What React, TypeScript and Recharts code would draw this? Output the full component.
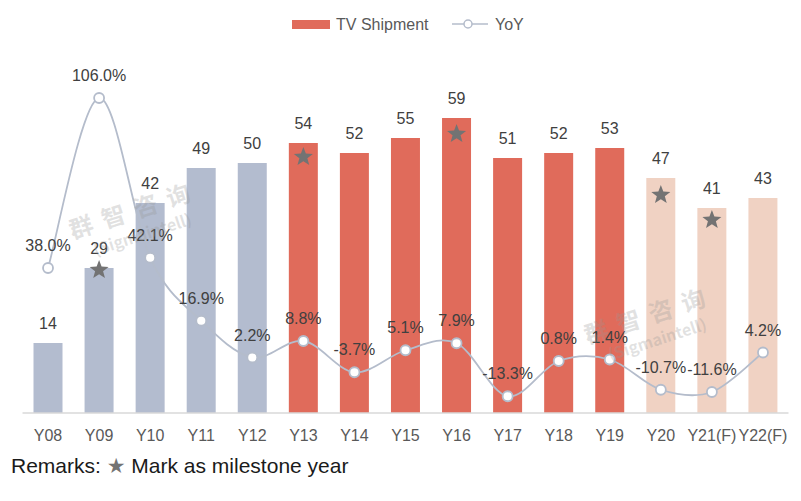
import { ComposedChart, Bar, Line, Scatter, XAxis, YAxis, Cell, LabelList } from 'recharts'

const years = ['Y08', 'Y09', 'Y10', 'Y11', 'Y12', 'Y13', 'Y14', 'Y15', 'Y16', 'Y17', 'Y18', 'Y19', 'Y20', 'Y21(F)', 'Y22(F)']
const shipments = [14, 29, 42, 49, 50, 54, 52, 55, 59, 51, 52, 53, 47, 41, 43]
const yoy = [38.0, 106.0, 42.1, 16.9, 2.2, 8.8, -3.7, 5.1, 7.9, -13.3, 0.8, 1.4, -10.7, -11.6, 4.2]
// star marks sit on the bars of milestone years (value on the shipment axis)
const milestones: (number | null)[] = [null, 28.6, null, null, null, 51.2, null, null, 55.8, null, null, null, 43.6, 38.6, null]

const COLORS = {
  early: '#b3bccf',
  main: '#e06b5b',
  late: '#f0d2c3',
  line: '#b4bccb',
  star: '#737373',
  text: '#404040',
  axis: '#595959',
}

const FONT = '"Liberation Sans", Arial, sans-serif'

const data = years.map((y, i) => ({
  year: y,
  shipment: shipments[i],
  yoy: yoy[i],
  star: milestones[i],
}))

const barColor = (i: number) => (i < 5 ? COLORS.early : i < 12 ? COLORS.main : COLORS.late)

// Excel-like smoothed line (Catmull-Rom through every point)
function smoothCurve(context: any) {
  let pts: [number, number][] = []
  return {
    areaStart() {},
    areaEnd() {},
    lineStart() {
      pts = []
    },
    lineEnd() {
      if (!pts.length) return
      context.moveTo(pts[0][0], pts[0][1])
      for (let i = 0; i < pts.length - 1; i++) {
        const p0 = pts[i - 1] || pts[i]
        const p1 = pts[i]
        const p2 = pts[i + 1]
        const p3 = pts[i + 2] || p2
        context.bezierCurveTo(
          p1[0] + (p2[0] - p0[0]) / 6,
          p1[1] + (p2[1] - p0[1]) / 6,
          p2[0] - (p3[0] - p1[0]) / 6,
          p2[1] - (p3[1] - p1[1]) / 6,
          p2[0],
          p2[1]
        )
      }
    },
    point(x: number, y: number) {
      pts.push([+x, +y])
    },
  }
}

function starPath(cx: number, cy: number, R: number) {
  const r = R * 0.42
  let d = ''
  for (let k = 0; k < 10; k++) {
    const rad = k % 2 === 0 ? R : r
    const a = -Math.PI / 2 + (k * Math.PI) / 5
    d += (k === 0 ? 'M' : 'L') + (cx + rad * Math.cos(a)).toFixed(2) + ',' + (cy + rad * Math.sin(a)).toFixed(2)
  }
  return d + 'Z'
}

const StarShape = (props: any) => {
  const { cx, cy, payload } = props
  if (payload == null || payload.star == null || !isFinite(cy)) return <g />
  return <path d={starPath(cx, cy, 10)} fill={COLORS.star} />
}

const watermark = {
  position: 'absolute' as const,
  transform: 'rotate(-18deg)',
  color: 'rgba(150,150,150,0.28)',
  fontSize: 24,
  fontWeight: 'bold' as const,
  textAlign: 'center' as const,
  lineHeight: '26px',
  fontFamily: '"Noto Sans CJK SC", sans-serif',
  pointerEvents: 'none' as const,
}

export default function App() {
  return (
    <div
      style={{
        position: 'fixed',
        left: 0,
        top: 0,
        width: 801,
        height: 501,
        background: '#fff',
        fontFamily: FONT,
        overflow: 'hidden',
      }}
    >
      {/* legend */}
      <div style={{ position: 'absolute', left: 292, top: 20, width: 38, height: 9, background: COLORS.main }} />
      <div style={{ position: 'absolute', left: 336, top: 15, fontSize: 16, color: COLORS.axis, lineHeight: '20px' }}>TV Shipment</div>
      <svg style={{ position: 'absolute', left: 450, top: 16 }} width={40} height={16}>
        <line x1={2} y1={8} x2={38} y2={8} stroke={COLORS.line} strokeWidth={1.5} />
        <circle cx={18} cy={8} r={4} fill="#fff" stroke={COLORS.line} strokeWidth={1.5} />
      </svg>
      <div style={{ position: 'absolute', left: 495, top: 15, fontSize: 16, color: COLORS.axis, lineHeight: '20px' }}>YoY</div>

      <div style={{ position: 'absolute', left: 0, top: 0 }}>
        <ComposedChart
          width={801}
          height={460}
          data={data}
          margin={{ top: 13, right: 12.5, left: 22.5, bottom: 17 }}
          barCategoryGap={0}
        >
          <XAxis
            dataKey="year"
            height={30}
            axisLine={{ stroke: '#d9d9d9', strokeWidth: 1.5 }}
            tickLine={false}
            tickMargin={11}
            interval={0}
            tick={{ fill: COLORS.axis, fontSize: 16, fontFamily: FONT }}
            padding={{ left: 0, right: 0 }}
          />
          <YAxis yAxisId="left" domain={[0, 80]} hide />
          <YAxis yAxisId="right" orientation="right" domain={[-20, 140]} hide />
          <Bar yAxisId="left" dataKey="shipment" barSize={29} isAnimationActive={false}>
            {data.map((_, i) => (
              <Cell key={i} fill={barColor(i)} />
            ))}
            <LabelList dataKey="shipment" position="top" offset={14} fill={COLORS.text} fontSize={16} fontFamily={FONT} />
          </Bar>
          <Scatter yAxisId="left" dataKey="star" shape={StarShape} isAnimationActive={false} />
          <Line
            yAxisId="right"
            dataKey="yoy"
            type={smoothCurve as any}
            stroke={COLORS.line}
            strokeWidth={1.8}
            dot={{ r: 5, fill: '#fff', stroke: COLORS.line, strokeWidth: 1.8 }}
            activeDot={false}
            isAnimationActive={false}
          >
            <LabelList
              dataKey="yoy"
              position="top"
              offset={17}
              fill={COLORS.text}
              fontSize={16}
              fontFamily={FONT}
              formatter={(v: any) => Number(v).toFixed(1) + '%'}
            />
          </Line>
        </ComposedChart>
      </div>

      {/* watermark */}
      <div style={{ ...watermark, left: 70, top: 195 }}>
        <div style={{ letterSpacing: 10 }}>群智咨询</div>
        <div style={{ fontSize: 16 }}>(Sigmaintell)</div>
      </div>
      <div style={{ ...watermark, left: 585, top: 300 }}>
        <div style={{ letterSpacing: 10 }}>群智咨询</div>
        <div style={{ fontSize: 16 }}>(Sigmaintell)</div>
      </div>

      {/* remarks */}
      <div style={{ position: 'absolute', left: 11, top: 454, fontSize: 21, color: '#1a1a1a', lineHeight: '24px', whiteSpace: 'nowrap' }}>
        Remarks: <span style={{ color: COLORS.star, fontFamily: '"DejaVu Sans", sans-serif', fontSize: 21 }}>★</span> Mark as milestone year
      </div>
    </div>
  )
}
